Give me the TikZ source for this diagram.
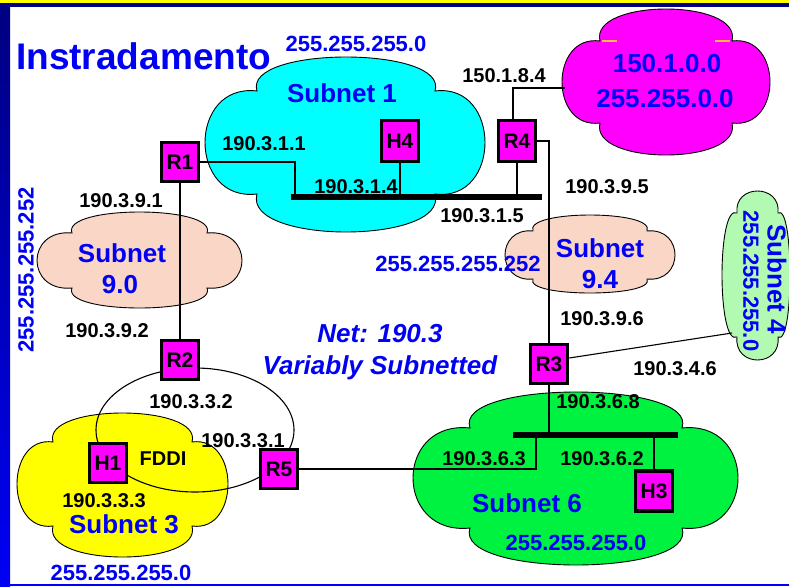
\documentclass[tikz,border=0pt]{standalone}
\usepackage{fontspec}
\setmainfont{Liberation Sans}
\definecolor{tblue}{RGB}{0,0,245}
\definecolor{navyb}{RGB}{0,0,128}
\definecolor{barblue}{RGB}{0,0,245}
\definecolor{peach}{RGB}{250,214,198}
\definecolor{lgreen}{RGB}{178,250,178}
\definecolor{sgreen}{RGB}{0,242,64}
\definecolor{orng}{RGB}{255,190,60}
\definecolor{pmag}{RGB}{255,0,255}
\definecolor{pcyan}{RGB}{0,255,255}
\definecolor{pyellow}{RGB}{255,255,0}
\newcommand{\lobecloud}[9]{%
 \path[#1] (#6,#8)
  .. controls ({#6-0.08*(#7-#6)},{#8-1.3333*(#8-#3)}) and ({#7+0.08*(#7-#6)},{#8-1.3333*(#8-#3)}) .. (#7,#8)
  .. controls ({#7+1.3333*(#4-#7)},{#8-0.08*(#9-#8)}) and ({#7+1.3333*(#4-#7)},{#9+0.08*(#9-#8)}) .. (#7,#9)
  .. controls ({#7+0.08*(#7-#6)},{#9+1.3333*(#5-#9)}) and ({#6-0.08*(#7-#6)},{#9+1.3333*(#5-#9)}) .. (#6,#9)
  .. controls ({#6-1.3333*(#6-#2)},{#9+0.08*(#9-#8)}) and ({#6-1.3333*(#6-#2)},{#8-0.08*(#9-#8)}) .. (#6,#8) -- cycle;}
\begin{document}
\begin{tikzpicture}[x=1pt,y=-1pt,
  cloudst/.style={draw=black, line width=0.9pt},
  box/.style={draw=black, line width=3.5pt, fill=pmag, minimum width=37pt, minimum height=39pt, inner sep=0pt, font=\bfseries\fontsize{21}{21}\selectfont},
  wire/.style={draw=black, line width=1.1pt},
  bus/.style={draw=black, line width=5.5pt},
  lbl/.style={anchor=base, inner sep=0pt, font=\bfseries\fontsize{20}{20}\selectfont},
  mask/.style={anchor=base, inner sep=0pt, text=tblue, font=\bfseries\fontsize{22}{22}\selectfont},
  sub/.style={anchor=base, inner sep=0pt, text=tblue, font=\bfseries\fontsize{26}{26}\selectfont}]
\useasboundingbox (0,0) rectangle (789,586);
\fill[white] (0,0) rectangle (789,586);
% clouds
\lobecloud{cloudst, fill=pmag}{562}{9}{770}{155}{600}{732}{41}{123}
\lobecloud{cloudst, fill=pcyan}{205}{57}{485}{232}{257}{435}{91}{194}
\lobecloud{cloudst, fill=peach}{37}{212}{242}{308}{72}{207}{233}{288}
\lobecloud{cloudst, fill=peach}{505}{215}{675}{293}{533}{647}{231}{279}
\lobecloud{cloudst, fill=lgreen}{722}{191}{790}{360}{737}{778}{213}{337}
\lobecloud{cloudst, fill=pyellow}{17}{413}{228}{557}{53}{192}{442}{526}
\lobecloud{cloudst, fill=sgreen}{413}{392}{738}{565}{470}{682}{428}{528}
\draw[orng, line width=1.2pt] (602,41) -- (617,41) (715,41) -- (730,41);
% FDDI ring
\draw[wire] (195,430) ellipse [x radius=99pt, y radius=62pt];
% boxes
\node[box] (r1) at (180,162) {R1};
\node[box, minimum height=41pt] (h4) at (400,141) {H4};
\node[box, minimum height=41pt] (r4) at (517,141) {R4};
\node[box] (r2) at (180,360) {R2};
\node[box] (r3) at (549,364) {R3};
\node[box] (h1) at (108,463) {H1};
\node[box] (r5) at (279,469) {R5};
\node[box, minimum height=40pt] (h3) at (654,491) {H3};
% bus coordinates
\coordinate (b1l) at (291,197);
\coordinate (b1r) at (542,197);
\coordinate (b1a) at (295,197);
\coordinate (b6l) at (513,435);
\coordinate (b6r) at (678,435);
\coordinate (b6t) at (536,435);
\coordinate (mg) at (565,88);
\coordinate (s4c) at (732,333);
% wires
\draw[wire] (r1.east) -| (b1a);
\draw[wire] (h4.south) -- (h4.south |- b1l);
\draw[wire] (r4.south) -- (r4.south |- b1l);
\draw[wire] ([xshift=-4pt]r4.north) |- (mg);
\draw[wire] (r4.east) -| (r3.north);
\draw[wire] (r1.south) -- (r2.north);
\draw[wire] (r3.south) -- (r3.south |- b6l);
\draw[wire] (h3.north |- b6l) -- (h3.north);
\draw[wire] (b6t) |- (r5.east);
\draw[wire] ([yshift=6pt]r3.east) -- (s4c);
\draw[bus] (b1l) -- (b1r);
\draw[bus] (b6l) -- (b6r);
% redraw boxes on top
\node[box] at (r1) {R1};
\node[box, minimum height=41pt] at (h4) {H4};
\node[box, minimum height=41pt] at (r4) {R4};
\node[box] at (r2) {R2};
\node[box] at (r3) {R3};
\node[box] at (h1) {H1};
\node[box] at (r5) {R5};
\node[box, minimum height=40pt] at (h3) {H3};
% title
\node[anchor=base west, inner sep=0pt, text=tblue, font=\bfseries\fontsize{37}{37}\selectfont] (title) at (16,70) {Instradamento};
% black labels
\node[lbl] (l311) at (264,150) {190.3.1.1};
\node[lbl] (l314) at (356,193) {190.3.1.4};
\node[lbl] (l315) at (482,222) {190.3.1.5};
\node[lbl] (l184) at (504,82) {150.1.8.4};
\node[lbl] (l395) at (607,193) {190.3.9.5};
\node[lbl] (l391) at (121,207) {190.3.9.1};
\node[lbl] (l392) at (107,337) {190.3.9.2};
\node[lbl] (l396) at (602,325) {190.3.9.6};
\node[lbl] (l346) at (675,375) {190.3.4.6};
\node[lbl] (l332) at (191,408) {190.3.3.2};
\node[lbl] (l331) at (243,447) {190.3.3.1};
\node[lbl] (fddi) at (163,465) {FDDI};
\node[lbl] (l333) at (104,507) {190.3.3.3};
\node[lbl] (l368) at (598,408) {190.3.6.8};
\node[lbl] (l363) at (484,465) {190.3.6.3};
\node[lbl] (l362) at (602,465) {190.3.6.2};
% blue labels
\node[mask] (m1) at (356,52) {255.255.255.0};
\node[sub] (s1) at (342,102) {Subnet 1};
\node[mask] (m94) at (458,271) {255.255.255.252};
\node[sub, font=\bfseries\itshape\fontsize{26}{26}\selectfont] (net) at (380,342) {Net: 190.3};
\node[sub, font=\bfseries\itshape\fontsize{26}{26}\selectfont] (var) at (380,374) {Variably Subnetted};
\node[sub] (s3) at (124,533) {Subnet 3};
\node[mask] (m3) at (121,580.5) {255.255.255.0};
\node[sub] (s6) at (527,512) {Subnet 6};
\node[mask] (m6) at (576,550) {255.255.255.0};
\node[sub] (n150a) at (667,73) {150.1.0.0};
\node[sub] (n150b) at (665,107) {255.255.0.0};
\node[sub] (s90a) at (122,262) {Subnet};
\node[sub] (s90b) at (120,293) {9.0};
\node[sub] (s94a) at (600,257) {Subnet};
\node[sub] (s94b) at (600,288) {9.4};
\node[mask, anchor=center, rotate=90] (m90) at (26,270) {255.255.255.252};
\node[mask, anchor=center, rotate=-90] (m4) at (751,281) {255.255.255.0};
\node[sub, anchor=center, rotate=-90] (s4) at (777,279) {Subnet 4};
% frame
\shade[top color=navyb, bottom color=barblue] (0,0) rectangle (10,586);
\fill[pyellow] (0,0) rectangle (789,2.7);
\fill[navyb] (0,2.7) rectangle (789,7.5);
\fill[barblue] (0,583.5) rectangle (789,586);
\end{tikzpicture}
\end{document}
